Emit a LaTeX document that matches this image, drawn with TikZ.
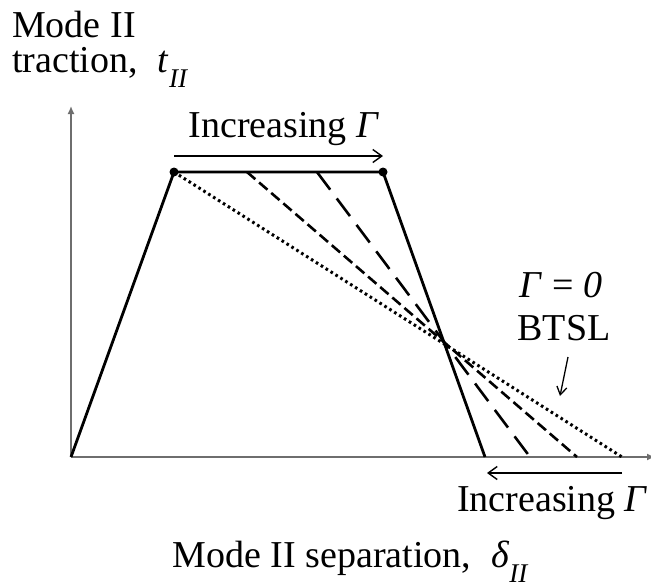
\documentclass[tikz,border=0pt]{standalone}
\usepackage{fontspec}
\setmainfont{Liberation Serif}
\usetikzlibrary{arrows.meta,positioning}
\definecolor{axisgray}{HTML}{6E6E6E}
\newcommand{\lowII}{\raisebox{-0.40em}{\fontsize{27}{27}\selectfont\itshape II}}

\begin{document}
\begin{tikzpicture}[x=1pt, y=-1pt,
    lbl/.style={font=\fontsize{38}{42}\selectfont, inner sep=0pt},
    law/.style={line width=2.8pt, line join=round},
    hint/.style={line width=1.4pt, -{Straight Barb[length=9pt,width=13pt]}}]
  \useasboundingbox (0,0) rectangle (651,587);

  % axes
  \coordinate (O) at (71,457);
  \coordinate (ytop) at (71,106);
  \coordinate (xend) at (655,457);
  \draw[axisgray, line width=1.5pt, -{Latex[length=8pt,width=7pt]}] (O) -- (ytop);
  \draw[axisgray, line width=1.5pt, -{Latex[length=8pt,width=7pt]}] (O) -- (xend);

  % trapezoidal law and its bilinear limits
  \coordinate (peakL) at (174,172);
  \coordinate (peakM) at (247,172);
  \coordinate (peakN) at (317,172);
  \coordinate (peakR) at (383,172);
  \coordinate (endR) at (485,457);
  \coordinate (endN) at (530,457);
  \coordinate (endM) at (577,457);
  \coordinate (endL) at (622,457);
  \draw[law] (O) -- (peakL) -- (peakR) -- (endR);
  \draw[line width=3pt, dash pattern=on 2.6pt off 3.2pt] (peakL) -- (endL);
  \draw[line width=2.6pt, dash pattern=on 11pt off 5pt] (peakM) -- (endM);
  \draw[line width=2.6pt, dash pattern=on 22pt off 11pt] (peakN) -- (endN);
  \fill (peakL) circle (4.5pt);
  \fill (peakR) circle (4.5pt);

  % increasing Gamma hints
  \coordinate (topA) at (174,156);
  \coordinate (topB) at (383,156);
  \draw[hint] (topA) -- (topB);
  \node[lbl, anchor=base] (inctop) at (284,137) {Increasing \textit{Γ}};
  \coordinate (botA) at (622,473);
  \coordinate (botB) at (487,473);
  \draw[hint] (botA) -- (botB);
  \node[lbl, anchor=base east] (incbot) at (648,511) {Increasing \textit{Γ}};

  % BTSL label
  \node[lbl, anchor=base] (gzero) at (561,297) {\textit{Γ} = \textit{0}};
  \node[lbl, anchor=base] (btsl) at (564,340) {BTSL};
  \coordinate (btslA) at (568,357);
  \coordinate (btslB) at (560,396);
  \draw[line width=1.3pt, -{Straight Barb[length=8pt,width=10pt]}] (btslA) -- (btslB);

  % axis titles
  \node[lbl, anchor=base west] (ytitle) at (12,37) {Mode II};
  \node[lbl, anchor=base west] (ysym) at (12,72) {traction,\; \textit{t}\lowII};
  \node[lbl, anchor=base] (xtitle) at (350,567) {Mode II separation,\; \textit{δ}\lowII};
\end{tikzpicture}
\end{document}
